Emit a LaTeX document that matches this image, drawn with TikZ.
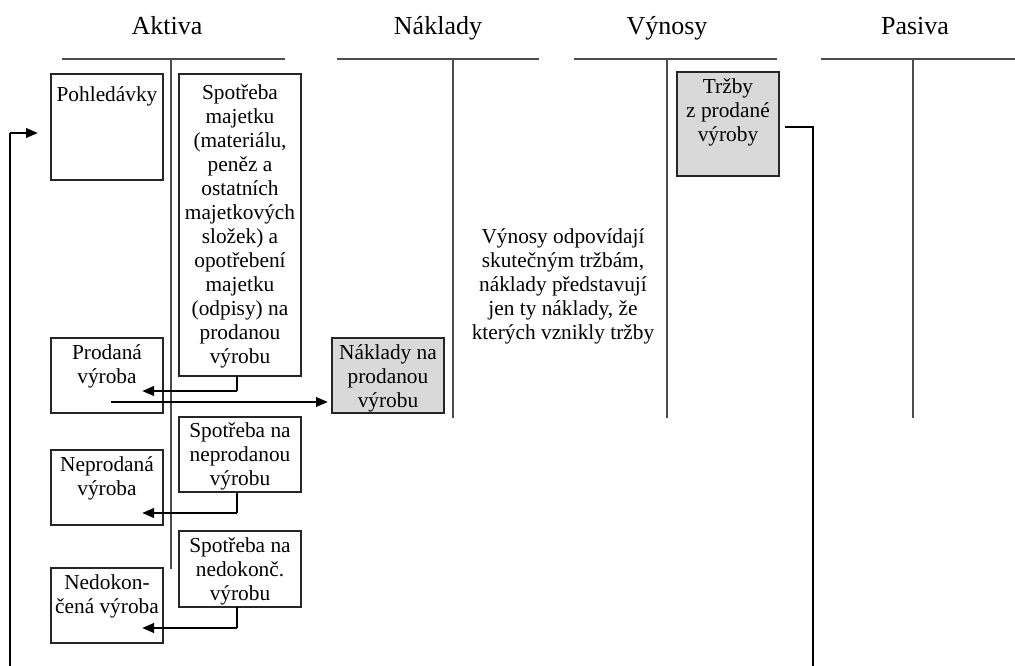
\documentclass[tikz,border=0pt]{standalone}
\usepackage{fontspec}
\setmainfont{Liberation Serif}
\usetikzlibrary{arrows.meta}
\begin{document}
\begin{tikzpicture}[x=0.75pt,y=-0.75pt,
  acct/.style={draw=black!70, line width=1.1pt},
  head/.style={anchor=base, inner sep=0pt, font=\fontsize{19.5}{22}\selectfont},
  box/.style args={#1x#2}{draw=black!85, line width=0.9pt, anchor=north west, inner sep=0pt, outer sep=0pt,
     minimum width=#1*0.75pt, minimum height=#2*0.75pt},
  gbox/.style={fill=black!15},
  txt/.style={anchor=north, inner sep=0pt, align=center, font=\fontsize{16}{18}\selectfont,
     execute at begin node=\strut},
  thinl/.style={draw=black, line width=0.8pt},
  arr/.style={draw=black, line width=2pt, -{Triangle[length=9pt,width=7pt]}},
  loopl/.style={draw=black, line width=1pt}
]
\useasboundingbox (0,0) rectangle (1015,666);
% headings
\node[head] (hA) at (167,35) {Aktiva};
\node[head] (hN) at (438,35) {Náklady};
\node[head] (hV) at (667,35) {Výnosy};
\node[head] (hP) at (915,35) {Pasiva};
% T accounts
\draw[acct] (62,59) -- (285,59);
\draw[acct] (171,59) -- (171,569);
\draw[acct] (337,59) -- (539,59);
\draw[acct] (453,59) -- (453,418);
\draw[acct] (574,59) -- (777,59);
\draw[acct] (667,59) -- (667,418);
\draw[acct] (821,59) -- (1015,59);
\draw[acct] (913,59) -- (913,418);
% boxes
\node[box=112x106] (pohl) at (51,74) {};
\node[txt] (pohlT) at ([yshift=-7.5pt]pohl.north) {Pohledávky};
\node[box=122x302] (spotr) at (179,74) {};
\node[txt] (spotrT) at ([yshift=-7.5pt]spotr.north) {Spotřeba\\majetku\\(materiálu,\\peněz a\\ostatních\\majetkových\\složek) a\\opotřebení\\majetku\\(odpisy) na\\prodanou\\výrobu};
\node[box=112x75] (prod) at (51,338) {};
\node[txt] (prodT) at ([yshift=-4.5pt]prod.north) {Prodaná\\výroba};
\node[box=112x75, gbox] (nakl) at (332,338) {};
\node[txt] (naklT) at ([yshift=-4.5pt]nakl.north) {Náklady na\\prodanou\\výrobu};
\node[box=122x75] (spn) at (179,417) {};
\node[txt] (spnT) at ([yshift=-4pt]spn.north) {Spotřeba na\\neprodanou\\výrobu};
\node[box=112x75] (neprod) at (51,450) {};
\node[txt] (neprodT) at ([yshift=-4.5pt]neprod.north) {Neprodaná\\výroba};
\node[box=122x76] (spd) at (179,531) {};
\node[txt] (spdT) at ([yshift=-4.5pt]spd.north) {Spotřeba na\\nedokonč.\\výrobu};
\node[box=112x75] (nedok) at (51,568) {};
\node[txt] (nedokT) at ([yshift=-4.5pt]nedok.north) {Nedokon-\\čená výroba};
\node[box=102x104, gbox] (trzby) at (677,72) {};
\node[txt] (trzbyT) at ([yshift=-5pt]trzby.north) {Tržby\\z prodané\\výroby};
% middle note
\node[txt] (note) at (563,228) {Výnosy odpovídají\\skutečným tržbám,\\náklady představují\\jen ty náklady, že\\kterých vznikly tržby};
% connectors
\coordinate (k1) at (237,391); \coordinate (t1) at (142,391);
\draw[thinl] (spotr.south -| k1) -- (k1);
\draw[arr] (k1) -- (t1);
\coordinate (s2) at (111,402);
\draw[arr, shorten >=3pt] (s2) -- (s2 -| nakl.west);
\coordinate (k2) at (237,513); \coordinate (t2) at (142,513);
\draw[thinl] (spn.south -| k2) -- (k2);
\draw[arr] (k2) -- (t2);
\coordinate (k3) at (237,628); \coordinate (t3) at (142,628);
\draw[thinl] (spd.south -| k3) -- (k3);
\draw[arr] (k3) -- (t3);
% loop
\coordinate (b1) at (10,666); \coordinate (l1) at (10,133);
\draw[loopl] (b1) -- (l1);
\draw[arr] (l1) -- ([xshift=-9.75pt]pohl.west |- l1);
\coordinate (r1) at (813,127); \coordinate (b2) at (813,666);
\draw[loopl] ([xshift=4.5pt]trzby.east |- r1) -- (r1) -- (b2);
\end{tikzpicture}
\end{document}
